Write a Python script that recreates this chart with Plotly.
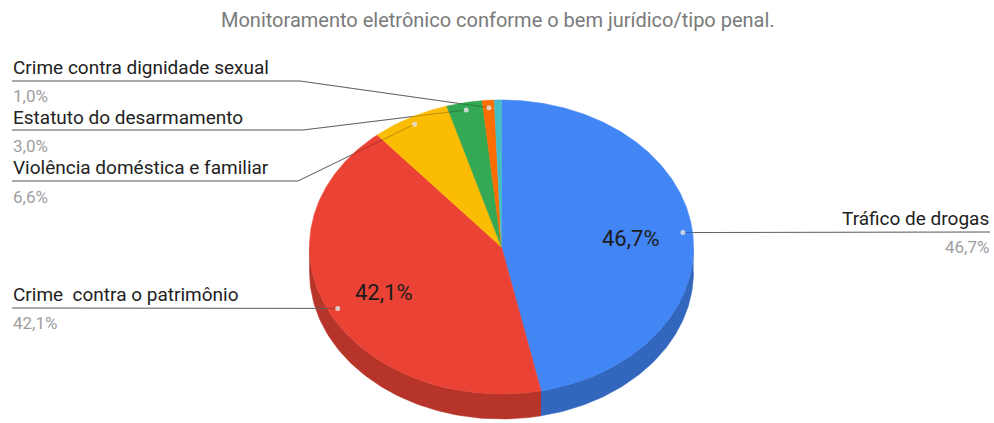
import numpy as np
import plotly.graph_objects as go

# ---- data -------------------------------------------------------------
categories = [
    "Tráfico de drogas",
    "Crime\u00a0 contra o patrimônio",
    "Violência doméstica e familiar",
    "Estatuto do desarmamento",
    "Crime contra dignidade sexual",
    "Outros",
]
values = [46.7, 42.1, 6.6, 3.0, 1.0, 0.6]
pct_labels = ["46,7%", "42,1%", "6,6%", "3,0%", "1,0%", "0,6%"]
title_text = "Monitoramento eletrônico conforme o bem jurídico/tipo penal."

# ---- style ------------------------------------------------------------
colors = ["#4285F4", "#EA4335", "#FBBC04", "#34A853", "#FF6D01", "#46BDC6"]
W, H = 994, 423
CX, CY, RX, RY, DEPTH = 501.5, 247.0, 192.0, 147.0, 25.0
FONT = "Roboto, Arial, sans-serif"


def shade(hex_color, k):
    h = hex_color.lstrip("#")
    r, g, b = (int(h[i:i + 2], 16) for i in (0, 2, 4))
    return "rgb(%d,%d,%d)" % (r * k, g * k, b * k)


def ell(theta, r=1.0, dy=0.0):
    return CX + r * RX * np.sin(theta), CY - r * RY * np.cos(theta) + dy


total = float(sum(values))
edges = np.concatenate([[0.0], np.cumsum(values)]) / total * 2 * np.pi

fig = go.Figure()

# side walls (front half of the disc)
for i, c in enumerate(colors):
    lo, hi = max(edges[i], np.pi / 2), min(edges[i + 1], 3 * np.pi / 2)
    if lo >= hi:
        continue
    t = np.linspace(lo, hi, 80)
    xt, yt = ell(t)
    xb, yb = ell(t[::-1], dy=DEPTH)
    fig.add_trace(go.Scatter(
        x=np.concatenate([xt, xb]), y=np.concatenate([yt, yb]),
        mode="lines", fill="toself", fillcolor=shade(c, 0.78),
        line=dict(color=shade(c, 0.78), width=0.5), hoverinfo="skip"))

# leader-line layout: (name y, underline y, percent y, bend x) for left labels
left_layout = {
    4: (67, 81, 96, 300),
    3: (117, 130, 146, 303),
    2: (167, 181, 197, 298),
    1: (294, 308, 323, None),
}
right_layout = {0: (218, 232, 247)}

dots = {i: ell((edges[i] + edges[i + 1]) / 2, r=0.95) for i in range(len(values))}

line_paths = []
for i, (yn, yl, yp, bx) in left_layout.items():
    dx, dy_ = dots[i]
    if bx is None:
        line_paths.append(([12, dx], [yl, dy_]))
    else:
        line_paths.append(([12, bx, dx], [yl, yl, dy_]))
for i, (yn, yl, yp) in right_layout.items():
    dx, dy_ = dots[i]
    line_paths.append(([dx, 990], [dy_, yl]))

# leader lines under the top face
for xs, ys in line_paths:
    fig.add_trace(go.Scatter(x=xs, y=ys, mode="lines",
                             line=dict(color="#858585", width=1), hoverinfo="skip"))

# top face
for i, c in enumerate(colors):
    t = np.linspace(edges[i], edges[i + 1], max(3, int(values[i] * 6)))
    xt, yt = ell(t)
    fig.add_trace(go.Scatter(
        x=np.concatenate([[CX], xt, [CX]]), y=np.concatenate([[CY], yt, [CY]]),
        mode="lines", fill="toself", fillcolor=c,
        line=dict(color=c, width=0.6), hoverinfo="skip"))

# translucent overlay: darkens leader lines, tints them over the slices
for xs, ys in line_paths:
    fig.add_trace(go.Scatter(x=xs, y=ys, mode="lines",
                             line=dict(color="rgba(0,0,0,0.25)", width=1), hoverinfo="skip"))

# slice dots
fig.add_trace(go.Scatter(
    x=[dots[i][0] for i in list(left_layout) + list(right_layout)],
    y=[dots[i][1] for i in list(left_layout) + list(right_layout)],
    mode="markers", marker=dict(size=5, color="rgba(225,225,225,0.85)"),
    hoverinfo="skip"))

ann = []
for i, (yn, yl, yp, bx) in left_layout.items():
    ann.append(dict(x=11, y=yn, text=categories[i], xanchor="left", yanchor="middle",
                    font=dict(family=FONT, size=19, color="#222222")))
    ann.append(dict(x=11, y=yp, text=pct_labels[i], xanchor="left", yanchor="middle",
                    font=dict(family=FONT, size=17, color="#a0a0a0")))
for i, (yn, yl, yp) in right_layout.items():
    ann.append(dict(x=991, y=yn, text=categories[i], xanchor="right", yanchor="middle",
                    font=dict(family=FONT, size=19, color="#222222")))
    ann.append(dict(x=991, y=yp, text=pct_labels[i], xanchor="right", yanchor="middle",
                    font=dict(family=FONT, size=17, color="#a0a0a0")))

# in-slice percentages for the two big slices
for i in (0, 1):
    mid = (edges[i] + edges[i + 1]) / 2
    tx, ty = ell(mid, r=0.68)
    ann.append(dict(x=tx, y=ty + 2, text=pct_labels[i], xanchor="center", yanchor="middle",
                    font=dict(family=FONT, size=22, color="#1c1c1c")))

ann.append(dict(x=498, y=20, text=title_text, xanchor="center", yanchor="middle",
                font=dict(family=FONT, size=20, color="#7a7a7a")))

for a in ann:
    a.update(xref="x", yref="y", showarrow=False)

fig.update_layout(
    width=W, height=H, margin=dict(l=0, r=0, t=0, b=0),
    paper_bgcolor="white", plot_bgcolor="white", showlegend=False,
    xaxis=dict(range=[0, W], visible=False, fixedrange=True),
    yaxis=dict(range=[H, 0], visible=False, fixedrange=True),
    annotations=ann,
)

fig.write_html("out.html")
